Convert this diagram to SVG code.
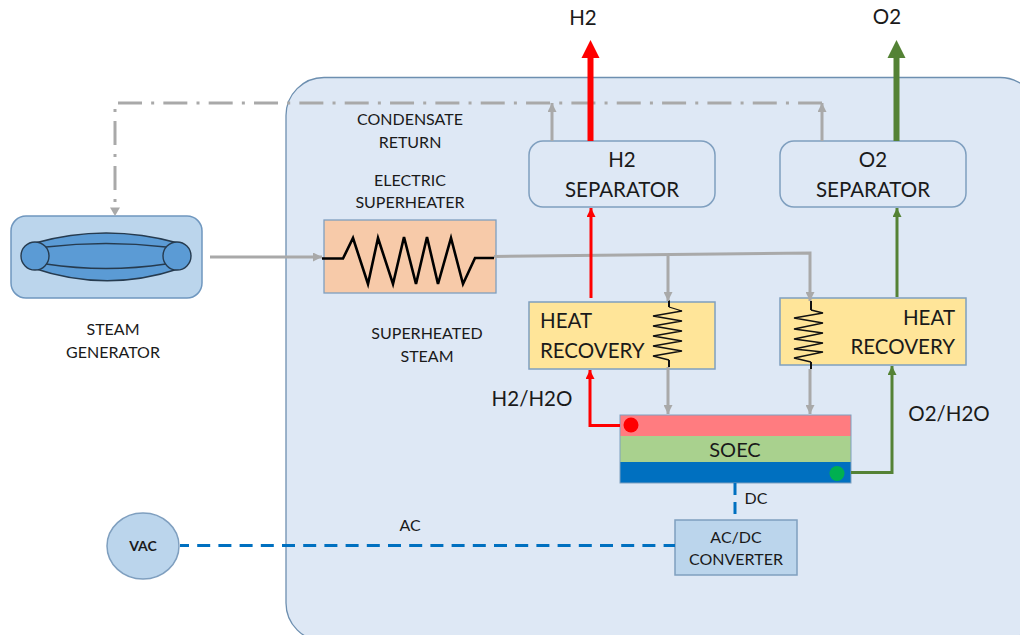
<svg xmlns="http://www.w3.org/2000/svg" width="1020" height="635" viewBox="0 0 1020 635">
<style>
text{font-family:Lato,"Open Sans","Liberation Sans",sans-serif;fill:#1a1a1a;text-anchor:middle}
.s{font-size:16px}.l{font-size:20.500px}
.g{fill:none;stroke:#a9a9a9;stroke-width:3}
.dd{fill:none;stroke:#a9a9a9;stroke-width:3;stroke-dasharray:24 9.170 3 9.170}
.coil{fill:none;stroke:#111;stroke-width:1.300}
.stub{fill:none;stroke:#111;stroke-width:2}
.red{fill:none;stroke:#f00;stroke-width:3}
.grn{fill:none;stroke:#548235;stroke-width:3}
.bl{fill:none;stroke:#0070c0;stroke-width:3;stroke-dasharray:13 8.200;stroke-dashoffset:4}
.box{stroke:#7f9fbf;stroke-width:1.500}
.sg{fill:#5b9bd5;stroke:#263b4f;stroke-width:1.400}
</style>
<defs>
<marker id="ag" markerUnits="userSpaceOnUse" markerWidth="10" markerHeight="9" refX="9" refY="4.500" orient="auto"><path d="M0 0L9 4.500L0 9z" fill="#a9a9a9"/></marker>
<marker id="ar" markerUnits="userSpaceOnUse" markerWidth="10" markerHeight="9" refX="9" refY="4.500" orient="auto"><path d="M0 0L9 4.500L0 9z" fill="#f00"/></marker>
<marker id="an" markerUnits="userSpaceOnUse" markerWidth="10" markerHeight="9" refX="9" refY="4.500" orient="auto"><path d="M0 0L9 4.500L0 9z" fill="#548235"/></marker>
</defs>
<rect id="enclosure" x="286" y="77.500" width="752" height="563.500" rx="38" fill="#dee8f5" stroke="#6d8fb0" stroke-width="1.300"/>

<g id="steam-generator">
<rect x="11" y="216" width="191" height="82" rx="15" fill="#bbd5ec" stroke="#6f97bf" stroke-width="1.500"/>
<path class="sg" d="M35 243Q106 223 178 243Q192 256 178 269Q106 293 33 268Q20 256 35 243z"/>
<path d="M46 247Q106 240 166 247M46 264Q106 273 166 264" fill="none" stroke="#263b4f" stroke-width="1.400"/>
<circle class="sg" cx="35" cy="256" r="14"/>
<circle class="sg" cx="177" cy="256" r="14"/>
<text class="s" x="113" y="335">STEAM</text>
<text class="s" x="113" y="358">GENERATOR</text>
</g>

<g id="superheater">
<rect x="324" y="220" width="172" height="73" fill="#f7caa9" stroke="#7f9fbf" stroke-width="1.300"/>
<path d="M322 258.500H343L353 238L368 284L378 238L393 284L404 237L416 284L427 237L438 284L451 238L463 284L475 258H494" fill="none" stroke="#000" stroke-width="2.600"/>
<text class="s" x="410" y="186">ELECTRIC</text>
<text class="s" x="410" y="208">SUPERHEATER</text>
</g>

<g id="h2-separator">
<rect class="box" x="529" y="141" width="186" height="66" rx="14" fill="#dee8f5"/>
<text class="l" x="622" y="167">H2</text>
<text class="l" x="622" y="197">SEPARATOR</text>
</g>
<g id="o2-separator">
<rect class="box" x="780" y="141" width="186" height="66" rx="14" fill="#dee8f5"/>
<text class="l" x="873" y="167">O2</text>
<text class="l" x="873" y="197">SEPARATOR</text>
</g>

<g id="h2-heat-recovery">
<rect class="box" x="529" y="302" width="186" height="67" fill="#ffe599"/>
<text class="l" x="540" y="328" style="text-anchor:start">HEAT</text>
<text class="l" x="540" y="358" style="text-anchor:start">RECOVERY</text>
<path class="coil" d="M669 307L682 311L653 316L682 321L653 326L682 331L653 336L682 341L653 346L682 351L653 356L669 360"/>
<path class="stub" d="M669 300V307M669 360V367"/>
</g>
<g id="o2-heat-recovery">
<rect class="box" x="780" y="298" width="186" height="67" fill="#ffe599"/>
<text class="l" x="955" y="325" style="text-anchor:end">HEAT</text>
<text class="l" x="955" y="354" style="text-anchor:end">RECOVERY</text>
<path class="coil" d="M811 310L823 313L794 318L823 323L794 329L823 333L794 339L823 343L794 349L823 352L794 358L811 362"/>
<path class="stub" d="M811 301V310M811 362V369"/>
</g>

<g id="soec">
<rect x="620" y="415" width="231" height="21" fill="#ff7c80"/>
<rect x="620" y="436" width="231" height="27" fill="#a9d18e"/>
<rect x="620" y="462" width="231" height="21" fill="#0070c0"/>
<rect x="620" y="415" width="231" height="68" fill="none" stroke="#7f9fbf" stroke-width="1"/>
<circle cx="631" cy="425" r="7.500" fill="#f00"/>
<circle cx="837" cy="473.500" r="7.500" fill="#00b050"/>
<text x="735" y="457" style="font-size:20px">SOEC</text>
</g>

<g id="converter">
<rect class="box" x="675" y="520" width="122" height="55" fill="#bbd5ec"/>
<text class="s" x="736" y="543">AC/DC</text>
<text class="s" x="736" y="565">CONVERTER</text>
</g>

<g id="vac">
<ellipse cx="143" cy="546" rx="36" ry="33" fill="#bbd5ec" stroke="#7f9fbf" stroke-width="1.500"/>
<text x="143" y="551" style="font-size:14px;font-weight:700">VAC</text>
</g>

<g id="connectors">
<path class="dd" d="M118 103H822"/>
<path class="dd" d="M115 109V206" style="stroke-dasharray:3 9 24 9"/>
<path d="M110 207.500H120L115 216z" fill="#a9a9a9"/>
<path class="g" d="M552 141V103" marker-end="url(#ag)"/>
<path class="g" d="M822 141V103" marker-end="url(#ag)"/>
<path class="g" d="M210 257H322" marker-end="url(#ag)"/>
<path class="g" d="M494 256.500L810 253V301" marker-end="url(#ag)"/>
<path class="g" d="M668 255V301" marker-end="url(#ag)"/>
<path class="g" d="M668 367V414" marker-end="url(#ag)"/>
<path class="g" d="M810 369V414" marker-end="url(#ag)"/>
<path d="M590.500 141V58" fill="none" stroke="#f00" stroke-width="6"/>
<path d="M581.500 58L590.500 40L599.500 58z" fill="#f00"/>
<path d="M896.500 141V58" fill="none" stroke="#548235" stroke-width="6"/>
<path d="M887.500 58L896.500 40L905.500 58z" fill="#548235"/>
<path class="red" d="M591 298V208" marker-end="url(#ar)"/>
<path class="grn" d="M897 297V208" marker-end="url(#an)"/>
<path class="red" d="M620 425.500H590V370" marker-end="url(#ar)"/>
<path class="grn" d="M851 472.500H892V366" marker-end="url(#an)"/>
<path class="bl" d="M180 545.500H675"/>
<path class="bl" d="M735 483V516" style="stroke-dasharray:12 7;stroke-dashoffset:0"/>
</g>

<g id="labels">
<text x="583" y="25" class="l">H2</text>
<text x="887" y="24" class="l">O2</text>
<text class="s" x="410" y="125">CONDENSATE</text>
<text class="s" x="410" y="148">RETURN</text>
<text class="s" x="427" y="339">SUPERHEATED</text>
<text class="s" x="427" y="362">STEAM</text>
<text class="l" x="532" y="406">H2/H2O</text>
<text class="l" x="949" y="421">O2/H2O</text>
<text class="s" x="756" y="504">DC</text>
<text class="s" x="410" y="531">AC</text>
</g>
</svg>
